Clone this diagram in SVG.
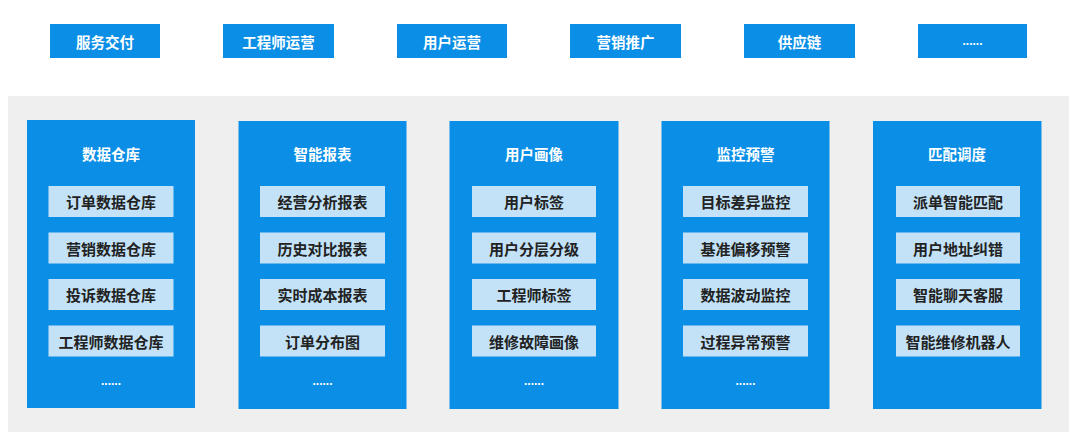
<svg xmlns="http://www.w3.org/2000/svg" width="1080" height="444" viewBox="0 0 1080 444">
<style>
.top{fill:#0b8fe6}
.col{fill:#0b8fe6}
.item{fill:#c3e2f8}
.tt{font-family:"Noto Sans CJK SC","Liberation Sans",sans-serif;font-size:14.5px;font-weight:bold;fill:#ffffff;text-anchor:middle;dominant-baseline:central}
.it{font-family:"Noto Sans CJK SC","Liberation Sans",sans-serif;font-size:15px;font-weight:bold;fill:#222222;text-anchor:middle;dominant-baseline:central}
.dots{font-family:"Liberation Sans",sans-serif;font-size:12px;font-weight:bold;fill:#ffffff;text-anchor:middle}
</style>
<rect width="1080" height="444" fill="#ffffff"/>
<g id="top-bar">
<g id="t1"><rect class="top" x="50" y="24" width="110" height="34"/><text class="tt" x="105" y="41">服务交付</text></g>
<g id="t2"><rect class="top" x="223" y="24" width="111" height="34"/><text class="tt" x="278.5" y="41">工程师运营</text></g>
<g id="t3"><rect class="top" x="397" y="24" width="110" height="34"/><text class="tt" x="452" y="41">用户运营</text></g>
<g id="t4"><rect class="top" x="570" y="24" width="111" height="34"/><text class="tt" x="625.5" y="41">营销推广</text></g>
<g id="t5"><rect class="top" x="744" y="24" width="111" height="34"/><text class="tt" x="799.5" y="41">供应链</text></g>
<g id="t6"><rect class="top" x="918" y="24" width="109" height="34"/><text class="dots" x="972.5" y="45">......</text></g>
</g>
<rect id="platform" x="8" y="96" width="1061" height="336" fill="#efefef"/>
<g id="c1">
<rect class="col" x="27" y="120" width="168" height="288"/>
<text class="tt" x="111" y="153">数据仓库</text>
<rect class="item" x="48.5" y="186" width="125" height="31"/><text class="it" x="111" y="201.5">订单数据仓库</text>
<rect class="item" x="48.5" y="232.5" width="125" height="31"/><text class="it" x="111" y="248">营销数据仓库</text>
<rect class="item" x="48.5" y="279" width="125" height="31"/><text class="it" x="111" y="294.5">投诉数据仓库</text>
<rect class="item" x="48.5" y="325.5" width="125" height="31"/><text class="it" x="111" y="341">工程师数据仓库</text>
<text class="dots" x="111" y="385">......</text>
</g>
<g id="c2">
<rect class="col" x="238.5" y="121" width="168" height="288"/>
<text class="tt" x="322.5" y="153">智能报表</text>
<rect class="item" x="260" y="186" width="125" height="31"/><text class="it" x="322.5" y="201.5">经营分析报表</text>
<rect class="item" x="260" y="232.5" width="125" height="31"/><text class="it" x="322.5" y="248">历史对比报表</text>
<rect class="item" x="260" y="279" width="125" height="31"/><text class="it" x="322.5" y="294.5">实时成本报表</text>
<rect class="item" x="260" y="325.5" width="125" height="31"/><text class="it" x="322.5" y="341">订单分布图</text>
<text class="dots" x="322.5" y="385">......</text>
</g>
<g id="c3">
<rect class="col" x="449.5" y="121" width="169" height="288"/>
<text class="tt" x="534" y="153">用户画像</text>
<rect class="item" x="472" y="186" width="124" height="31"/><text class="it" x="534" y="201.5">用户标签</text>
<rect class="item" x="472" y="232.5" width="124" height="31"/><text class="it" x="534" y="248">用户分层分级</text>
<rect class="item" x="472" y="279" width="124" height="31"/><text class="it" x="534" y="294.5">工程师标签</text>
<rect class="item" x="472" y="325.5" width="124" height="31"/><text class="it" x="534" y="341">维修故障画像</text>
<text class="dots" x="534" y="385">......</text>
</g>
<g id="c4">
<rect class="col" x="661.5" y="121" width="168" height="288"/>
<text class="tt" x="745.5" y="153">监控预警</text>
<rect class="item" x="683" y="186" width="125" height="31"/><text class="it" x="745.5" y="201.5">目标差异监控</text>
<rect class="item" x="683" y="232.5" width="125" height="31"/><text class="it" x="745.5" y="248">基准偏移预警</text>
<rect class="item" x="683" y="279" width="125" height="31"/><text class="it" x="745.5" y="294.5">数据波动监控</text>
<rect class="item" x="683" y="325.5" width="125" height="31"/><text class="it" x="745.5" y="341">过程异常预警</text>
<text class="dots" x="745.5" y="385">......</text>
</g>
<g id="c5">
<rect class="col" x="873" y="121" width="168.5" height="288"/>
<text class="tt" x="957" y="153">匹配调度</text>
<rect class="item" x="896" y="186" width="124" height="31"/><text class="it" x="958" y="201.5">派单智能匹配</text>
<rect class="item" x="896" y="232.5" width="124" height="31"/><text class="it" x="958" y="248">用户地址纠错</text>
<rect class="item" x="896" y="279" width="124" height="31"/><text class="it" x="958" y="294.5">智能聊天客服</text>
<rect class="item" x="896" y="325.5" width="124" height="31"/><text class="it" x="958" y="341">智能维修机器人</text>
</g>
<g id="connectors"></g>
</svg>
